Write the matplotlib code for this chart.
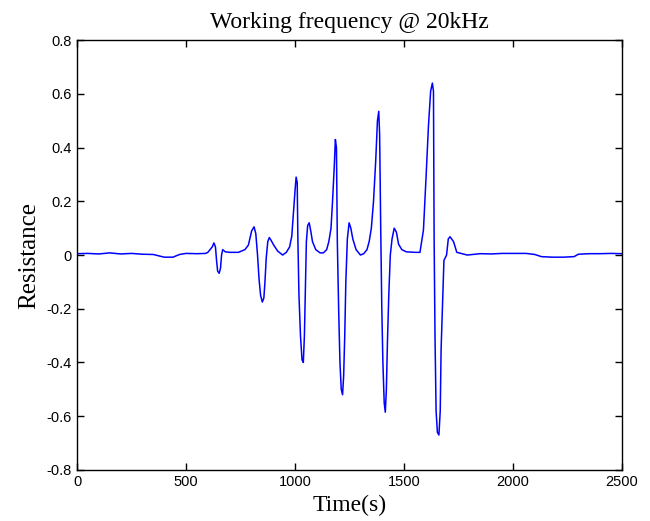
import matplotlib
matplotlib.use('Agg')
import matplotlib.pyplot as plt

# values (time in s, resistance)
time_s = [0, 50, 100, 150, 200, 250, 300, 350, 380, 400, 440, 470, 500, 550, 590,
          600, 620, 628, 635, 640, 645, 652, 658, 663, 668, 680, 700, 740, 770, 786,
          801, 812, 820, 828, 835, 842, 850, 857, 862, 868, 875, 882, 890, 900, 920,
          943, 960, 975, 985, 992, 1000, 1005, 1010, 1013, 1018, 1025, 1032, 1038, 1043, 1048,
          1052, 1058, 1065, 1072, 1080, 1095, 1115, 1130, 1145, 1155, 1165, 1172, 1180, 1185, 1190,
          1194, 1200, 1206, 1212, 1218, 1223, 1228, 1233, 1240, 1248, 1256, 1265, 1280, 1300, 1315,
          1330, 1340, 1350, 1360, 1370, 1378, 1384, 1388, 1393, 1398, 1403, 1409, 1414, 1419, 1424,
          1430, 1437, 1445, 1455, 1465, 1475, 1490, 1510, 1550, 1573, 1589, 1601, 1612, 1622, 1630,
          1635, 1638, 1642, 1647, 1653, 1660, 1666, 1670, 1677, 1683, 1695, 1703, 1711, 1727, 1742,
          1790, 1850, 1900, 1950, 2000, 2060, 2100, 2130, 2180, 2230, 2280, 2300, 2350, 2400, 2450,
          2500]
resistance = [0.005, 0.006, 0.004, 0.008, 0.004, 0.006, 0.003, 0.002, -0.004, -0.008, -0.008, 0.002, 0.006, 0.005, 0.006,
              0.010, 0.030, 0.045, 0.030, -0.020, -0.060, -0.068, -0.050, 0.000, 0.020, 0.012, 0.010, 0.010, 0.020, 0.037,
              0.090, 0.105, 0.080, 0.000, -0.090, -0.150, -0.175, -0.160, -0.100, -0.010, 0.050, 0.065, 0.055, 0.040, 0.015,
              0.000, 0.010, 0.030, 0.070, 0.150, 0.240, 0.290, 0.270, 0.060, -0.150, -0.300, -0.390, -0.400, -0.300, -0.100,
              0.050, 0.110, 0.120, 0.090, 0.050, 0.020, 0.008, 0.008, 0.020, 0.050, 0.100, 0.200, 0.330, 0.430, 0.400,
              0.050, -0.200, -0.400, -0.500, -0.520, -0.450, -0.300, -0.100, 0.060, 0.120, 0.100, 0.060, 0.020, 0.000, 0.005,
              0.020, 0.050, 0.100, 0.200, 0.350, 0.500, 0.535, 0.450, 0.100, -0.200, -0.400, -0.550, -0.585, -0.500, -0.320,
              -0.150, 0.000, 0.060, 0.100, 0.085, 0.040, 0.020, 0.012, 0.010, 0.010, 0.093, 0.290, 0.480, 0.610, 0.640,
              0.610, 0.060, -0.300, -0.580, -0.660, -0.670, -0.580, -0.350, -0.170, -0.020, 0.000, 0.060, 0.068, 0.050, 0.010,
              0.000, 0.005, 0.004, 0.006, 0.006, 0.006, 0.002, -0.006, -0.008, -0.008, -0.006, 0.003, 0.005, 0.005, 0.006,
              0.005]

xticks = [0, 500, 1000, 1500, 2000, 2500]
yticks = [-0.8, -0.6, -0.4, -0.2, 0, 0.2, 0.4, 0.6, 0.8]
ytick_labels = ['-0.8', '-0.6', '-0.4', '-0.2', '0', '0.2', '0.4', '0.6', '0.8']

fig = plt.figure(figsize=(6.5, 5.21), dpi=100)
ax = fig.add_axes([0.1185, 0.098, 0.8385, 0.825])

ax.plot(time_s, resistance, color='#0000ff', linewidth=1.1)

ax.set_xlim(0, 2500)
ax.set_ylim(-0.8, 0.8)
ax.set_xticks(xticks)
ax.set_xticklabels([str(t) for t in xticks])
ax.set_yticks(yticks)
ax.set_yticklabels(ytick_labels)
ax.tick_params(direction='in', length=5, width=1, top=True, right=True,
               labelsize=10.5, pad=4)
for lab in ax.get_xticklabels() + ax.get_yticklabels():
    lab.set_fontfamily('Liberation Sans')
for sp in ax.spines.values():
    sp.set_linewidth(1.0)

serif = 'Liberation Serif'
ax.set_title('Working frequency @ 20kHz', fontsize=17, fontfamily=serif, pad=9)
ax.set_xlabel('Time(s)', fontsize=17, fontfamily=serif, labelpad=4)
ax.set_ylabel('Resistance', fontsize=18, fontfamily=serif, labelpad=4)

fig.savefig('out.png', dpi=100)
